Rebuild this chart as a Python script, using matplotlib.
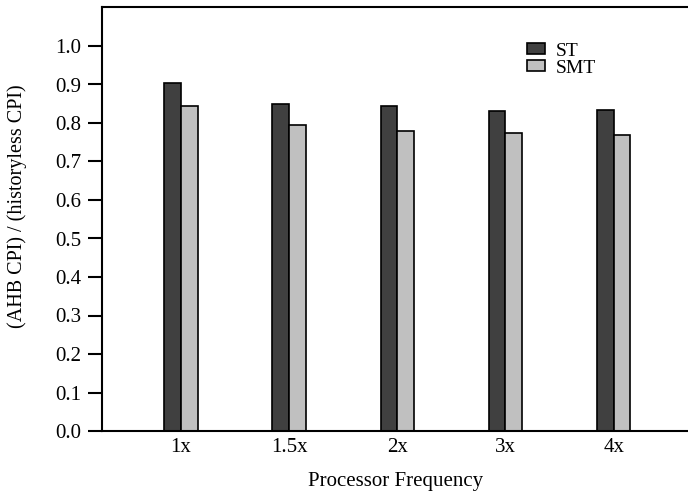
import numpy as np
import matplotlib.pyplot as plt

# --- data ---
categories = ['1x', '1.5x', '2x', '3x', '4x']
st_values = [0.905, 0.850, 0.843, 0.830, 0.833]
smt_values = [0.843, 0.795, 0.780, 0.773, 0.768]

plt.rcParams['font.family'] = ['Liberation Serif', 'DejaVu Serif']

fig = plt.figure(figsize=(6.88, 4.94), dpi=100)
ax = fig.add_axes([102 / 688, 63 / 494, 1 - 102 / 688 + 0.002, (431 - 7.5) / 494])

x = np.arange(len(categories))
w = 0.155
ax.bar(x - w / 2, st_values, w, color='#404040', edgecolor='black', linewidth=1.2, label='ST')
ax.bar(x + w / 2, smt_values, w, color='#c0c0c0', edgecolor='black', linewidth=1.2, label='SMT')

ax.set_xlim(-0.73, 4.7)
ax.set_ylim(0, 1.1)
ax.set_yticks(np.arange(0, 1.01, 0.1))
ax.set_yticklabels([f'{v:.1f}' for v in np.arange(0, 1.01, 0.1)])
ax.set_xticks(x)
ax.set_xticklabels(categories)

ax.tick_params(axis='y', direction='out', length=10, width=1.5, labelsize=15, pad=5)
ax.tick_params(axis='x', length=0, labelsize=15, pad=5)
for side in ['left', 'bottom', 'top']:
    ax.spines[side].set_linewidth(1.5)
ax.spines['right'].set_visible(False)

ax.set_xlabel('Processor Frequency', fontsize=15, labelpad=11)
ax.set_ylabel('(AHB CPI) / (historyless CPI)', fontsize=14.5)
ax.yaxis.set_label_coords(-0.128, 0.53)

ax.legend(loc='upper left', bbox_to_anchor=(0.71, 0.935), frameon=False, fontsize=14,
          handlelength=0.95, handleheight=0.5, handletextpad=0.55, labelspacing=0.0,
          borderaxespad=0)

plt.savefig('out.png', dpi=100)
